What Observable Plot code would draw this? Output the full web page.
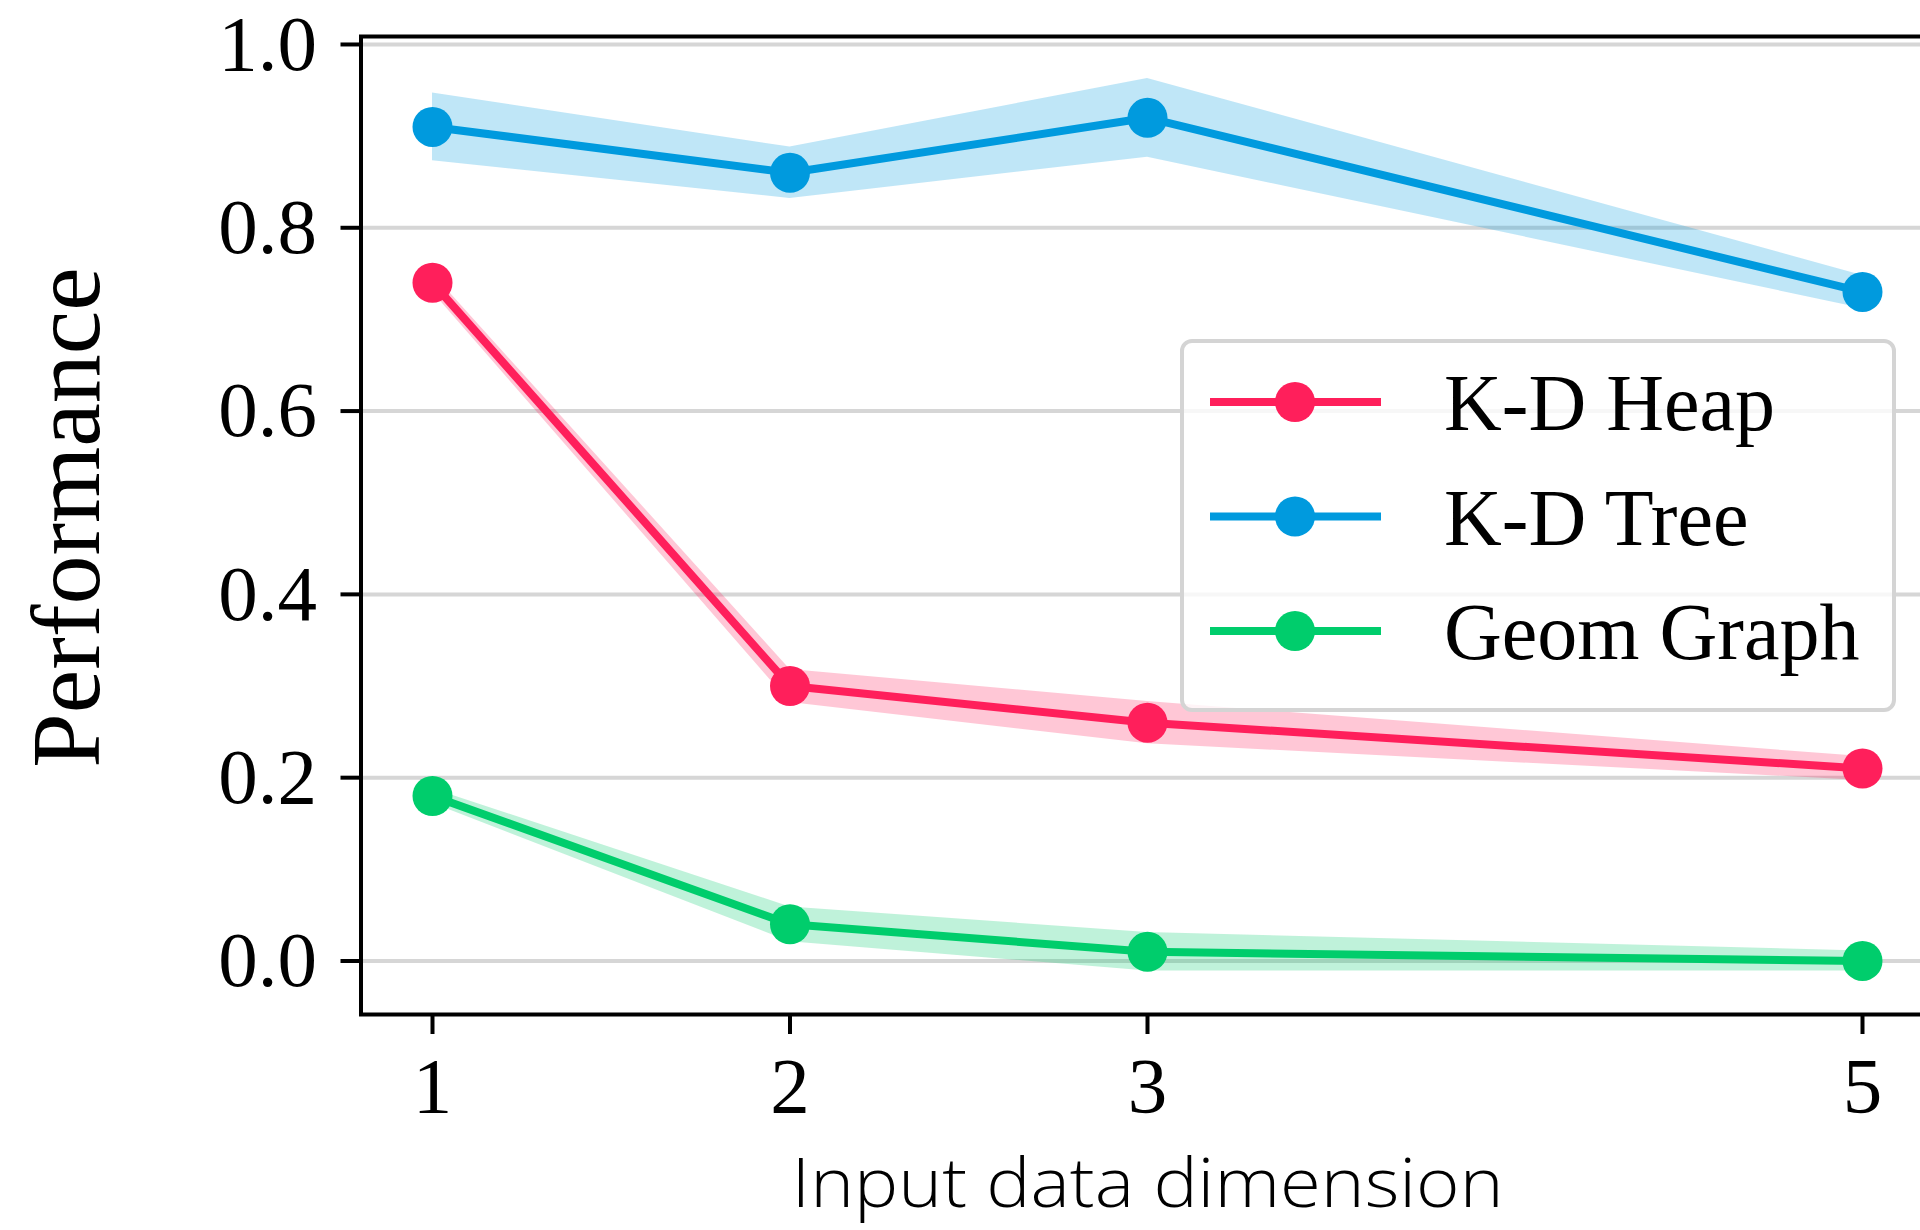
<!DOCTYPE html>
<html>
<head>
<meta charset="utf-8">
<script src="https://cdn.jsdelivr.net/npm/d3@7"></script>
<script src="https://cdn.jsdelivr.net/npm/@observablehq/plot@0.6"></script>
<style>
  html, body { margin: 0; padding: 0; background: white; }
  #wrap { position: relative; width: 1920px; height: 1230px; overflow: hidden; }
  #legend { position: absolute; left: 0; top: 0; pointer-events: none; }
</style>
</head>
<body>
<div id="wrap"></div>
<script>
// ---- data ----
const dims = [1, 2, 3, 5];
const seriesNames = ["K-D Heap", "K-D Tree", "Geom Graph"];
const seriesColors = ["#FF1F5B", "#009ADE", "#00CD6C"];
const heapMean = [0.74, 0.30, 0.26, 0.21];
const heapErr  = [0.010, 0.018, 0.023, 0.013];
const treeMean = [0.91, 0.86, 0.92, 0.73];
const treeErr  = [0.037, 0.028, 0.043, 0.018];
const geomMean = [0.18, 0.04, 0.01, 0.00];
const geomErr  = [0.008, 0.019, 0.021, 0.011];
const yTicks = [0.0, 0.2, 0.4, 0.6, 0.8, 1.0];
const xLabel = "Input data dimension";
const yLabel = "Performance";

const means = [heapMean, treeMean, geomMean];
const errs = [heapErr, treeErr, geomErr];
const rows = seriesNames.flatMap((name, i) => dims.map((d, j) => ({
  series: name, dim: d, mean: means[i][j],
  lo: means[i][j] - errs[i][j], hi: means[i][j] + errs[i][j]
})));

const W = 1920, H = 1230;
const serif = "'Liberation Serif', 'Times New Roman', Times, serif";

const chart = Plot.plot({
  width: W, height: H,
  marginLeft: 360.5, marginRight: -13.5, marginTop: 36, marginBottom: 216,
  x: {domain: [0.8, 5.2]},
  y: {domain: [-0.0584, 1.0087]},
  color: {domain: seriesNames, range: seriesColors},
  style: {fontFamily: serif, fontSize: "79px", color: "black", background: "white", overflow: "hidden"},
  marks: [
    Plot.ruleY(yTicks, {stroke: "#d6d6d6", strokeWidth: 4}),
    Plot.areaY(rows, {x: "dim", y1: "lo", y2: "hi", z: "series", fill: "series", fillOpacity: 0.25}),
    Plot.lineY(rows, {x: "dim", y: "mean", z: "series", stroke: "series", strokeWidth: 8}),
    Plot.dot(rows, {x: "dim", y: "mean", fill: "series", r: 20}),
    Plot.frame({stroke: "black", strokeWidth: 4}),
    Plot.axisY({ticks: yTicks, tickFormat: d3.format(".1f"), tickSize: 20, tickPadding: 24,
      strokeWidth: 4, fontSize: 79, label: null}),
    Plot.axisX({ticks: dims, tickFormat: d3.format("d"), tickSize: 20, tickPadding: 21,
      strokeWidth: 4, fontSize: 79, label: null}),
    Plot.text([xLabel], {frameAnchor: "bottom", text: d => d, dy: 170, lineAnchor: "middle", textAnchor: "middle",
      fontFamily: "'Open Sans', Lato, sans-serif", fontWeight: 300, fontSize: 69, fill: "black",
      className: "xlabel"}),
    Plot.text([yLabel], {frameAnchor: "left", text: d => d, rotate: -90, dx: -293.5, dy: -8,
      lineAnchor: "middle", textAnchor: "middle", fontFamily: serif, fontSize: 98, fill: "black"})
  ]
});
document.getElementById("wrap").appendChild(chart);
// fit x-axis label to the reference width
d3.select(chart).selectAll(".xlabel text")
  .attr("textLength", 712).attr("lengthAdjust", "spacingAndGlyphs");

// ---- legend overlay (inside axes, upper right) ----
const lg = d3.select("#wrap").append("svg").attr("id", "legend")
  .attr("width", W).attr("height", H);
const box = {x: 1182, y: 341, w: 712, h: 369};
lg.append("rect").attr("x", box.x).attr("y", box.y).attr("width", box.w).attr("height", box.h)
  .attr("rx", 10).attr("fill", "white").attr("fill-opacity", 0.8)
  .attr("stroke", "#d4d4d4").attr("stroke-width", 4);
seriesNames.forEach((name, i) => {
  const cy = box.y + 61 + i * 114.5;
  const g = lg.append("g");
  g.append("line").attr("x1", 1210).attr("x2", 1381).attr("y1", cy).attr("y2", cy)
    .attr("stroke", seriesColors[i]).attr("stroke-width", 8);
  g.append("circle").attr("cx", 1295).attr("cy", cy).attr("r", 20).attr("fill", seriesColors[i]);
  g.append("text").attr("x", 1444).attr("y", cy + 28).attr("font-family", serif)
    .attr("font-size", 80).attr("fill", "black").text(name);
});
</script>
</body>
</html>
